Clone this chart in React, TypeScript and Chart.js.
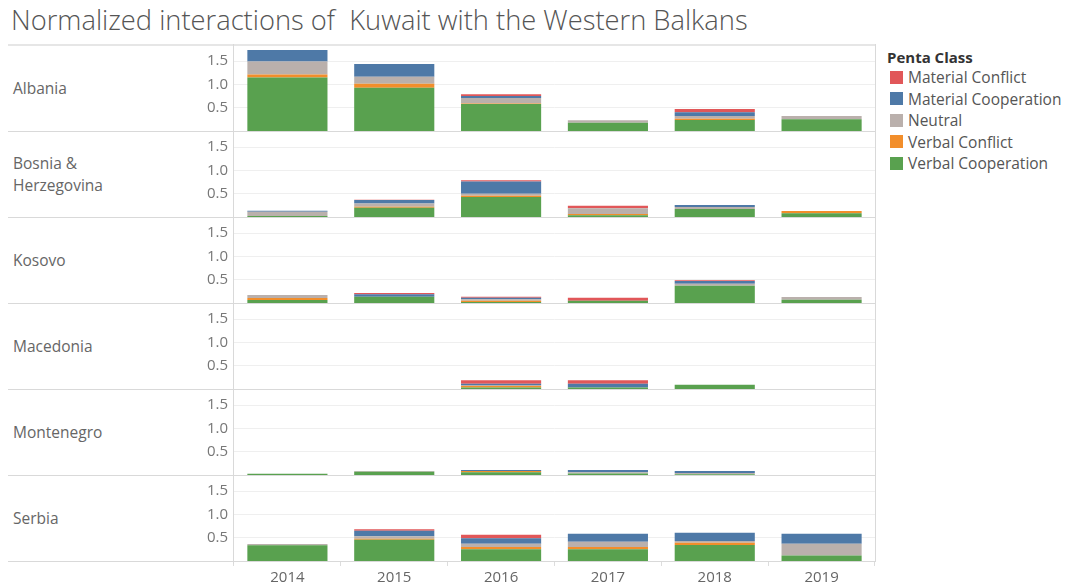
import React, { useEffect, useRef } from "react";
import { Chart, registerables } from "chart.js";

Chart.register(...registerables);

const years = ["2014", "2015", "2016", "2017", "2018", "2019"];
const countries = ["Albania", "Bosnia &\nHerzegovina", "Kosovo", "Macedonia", "Montenegro", "Serbia"];
const legendClasses = ["Material Conflict", "Material Cooperation", "Neutral", "Verbal Conflict", "Verbal Cooperation"];
const legendColors = ["#e15759", "#4e79a7", "#bab0ac", "#f28e2b", "#59a14f"];
const yTickValues = [0.5, 1.0, 1.5];
const yMax = 1.845;

// rows: Albania, Bosnia, Kosovo, Macedonia, Montenegro, Serbia; columns: 2014..2019
const verbalCooperation = [
  [1.15, 0.93, 0.58, 0.178, 0.236, 0.25],
  [0.02, 0.2, 0.43, 0.036, 0.17, 0.08],
  [0.064, 0.136, 0.02, 0.05, 0.37, 0.07],
  [0, 0, 0.03, 0.03, 0.093, 0],
  [0.025, 0.07, 0.057, 0.03, 0.015, 0],
  [0.336, 0.458, 0.25, 0.25, 0.343, 0.12],
];
const verbalConflict = [
  [0.06, 0.085, 0.01, 0, 0.028, 0],
  [0, 0.02, 0.028, 0.028, 0, 0.05],
  [0.043, 0, 0.03, 0, 0, 0],
  [0, 0, 0.034, 0, 0, 0],
  [0, 0, 0.029, 0, 0, 0],
  [0, 0.022, 0.05, 0.05, 0.05, 0],
];
const neutral = [
  [0.28, 0.15, 0.12, 0.05, 0.056, 0.07],
  [0.094, 0.07, 0.042, 0.126, 0.045, 0],
  [0.063, 0, 0.03, 0, 0.045, 0.06],
  [0, 0, 0.022, 0, 0, 0],
  [0, 0.015, 0, 0.027, 0.028, 0],
  [0.029, 0.05, 0.07, 0.115, 0.037, 0.25],
];
const materialCooperation = [
  [0.25, 0.27, 0.04, 0, 0.08, 0],
  [0.022, 0.075, 0.26, 0, 0.045, 0],
  [0, 0.054, 0.035, 0, 0.055, 0],
  [0, 0, 0.028, 0.084, 0, 0],
  [0, 0, 0.021, 0.05, 0.043, 0],
  [0, 0.12, 0.116, 0.172, 0.178, 0.217],
];
const materialConflict = [
  [0, 0, 0.04, 0, 0.07, 0],
  [0, 0.005, 0.03, 0.053, 0, 0],
  [0, 0.025, 0.021, 0.065, 0.02, 0],
  [0, 0, 0.076, 0.076, 0, 0],
  [0, 0, 0, 0, 0, 0],
  [0, 0.03, 0.079, 0, 0, 0],
];

const ROW_TOP = 45;
const ROW_H = 86;
const CANVAS_LEFT = 180;
const PLOT_LEFT = 234;
const PLOT_RIGHT = 875;
const X_AXIS_H = 25;
const FONT = "'Open Sans', 'DejaVu Sans', sans-serif";

export default function App() {
  const refs = useRef<(HTMLCanvasElement | null)[]>([]);

  useEffect(() => {
    const charts: Chart[] = [];
    countries.forEach((_, i) => {
      const canvas = refs.current[i];
      if (!canvas) return;
      const isLast = i === countries.length - 1;
      const series = [
        { label: "Verbal Cooperation", data: verbalCooperation[i], color: "#59a14f" },
        { label: "Verbal Conflict", data: verbalConflict[i], color: "#f28e2b" },
        { label: "Neutral", data: neutral[i], color: "#bab0ac" },
        { label: "Material Cooperation", data: materialCooperation[i], color: "#4e79a7" },
        { label: "Material Conflict", data: materialConflict[i], color: "#e15759" },
      ];
      const chart = new Chart(canvas, {
        type: "bar",
        data: {
          labels: years,
          datasets: series.map((s) => ({
            label: s.label,
            data: s.data,
            backgroundColor: s.color,
            borderWidth: 0,
            barPercentage: 0.75,
            categoryPercentage: 1,
          })),
        },
        options: {
          animation: false,
          responsive: false,
          devicePixelRatio: 1,
          layout: { padding: 0, autoPadding: false },
          plugins: { legend: { display: false }, tooltip: { enabled: false } },
          scales: {
            x: {
              stacked: true,
              display: isLast,
              offset: true,
              grid: {
                display: true,
                drawOnChartArea: false,
                drawTicks: true,
                tickLength: 5,
                color: "#dddddd",
                offset: true,
              },
              border: { display: false },
              ticks: {
                color: "#666666",
                font: { family: FONT, size: 15 },
                padding: 3,
                maxRotation: 0,
              },
              afterFit: (scale: any) => {
                scale.height = isLast ? X_AXIS_H : 0;
                scale.paddingLeft = 0;
                scale.paddingRight = 0;
              },
            },
            y: {
              stacked: true,
              min: 0,
              max: yMax,
              grid: { color: "#efefef", drawTicks: false, lineWidth: 1 },
              border: { display: false },
              ticks: {
                color: "#777777",
                font: { family: FONT, size: 15 },
                padding: 6,
                callback: (v: any) => Number(v).toFixed(1),
              },
              afterBuildTicks: (scale: any) => {
                scale.ticks = yTickValues.map((v) => ({ value: v }));
              },
              afterFit: (scale: any) => {
                scale.width = PLOT_LEFT - CANVAS_LEFT;
                scale.paddingTop = 0;
                scale.paddingBottom = 0;
              },
            },
          },
        },
      });
      charts.push(chart);
    });
    return () => charts.forEach((c) => c.destroy());
  }, []);

  const lineColor = "#d9d9d9";
  const totalBottom = ROW_TOP + ROW_H * countries.length;

  return (
    <div
      style={{
        position: "absolute",
        left: 0,
        top: 0,
        width: 1073,
        height: 586,
        background: "#ffffff",
        fontFamily: FONT,
        overflow: "hidden",
      }}
    >
      <div
        style={{
          position: "absolute",
          left: 11,
          top: 2,
          fontSize: 27.3,
          fontWeight: 300,
          color: "#555555",
          whiteSpace: "pre",
          lineHeight: "36px",
        }}
      >
        {"Normalized interactions of  Kuwait with the Western Balkans"}
      </div>

      {countries.map((name, i) => (
        <React.Fragment key={name}>
          <div
            style={{
              position: "absolute",
              left: 13,
              top: ROW_TOP + ROW_H * i,
              height: ROW_H,
              display: "flex",
              alignItems: "center",
              fontSize: 15.5,
              lineHeight: "22px",
              color: "#666666",
              whiteSpace: "pre-line",
            }}
          >
            {name}
          </div>
          <canvas
            ref={(el) => {
              refs.current[i] = el;
            }}
            width={PLOT_RIGHT - CANVAS_LEFT}
            height={ROW_H + (i === countries.length - 1 ? X_AXIS_H : 0)}
            style={{
              position: "absolute",
              left: CANVAS_LEFT,
              top: ROW_TOP + ROW_H * i,
              width: PLOT_RIGHT - CANVAS_LEFT,
              height: ROW_H + (i === countries.length - 1 ? X_AXIS_H : 0),
            }}
          />
        </React.Fragment>
      ))}

      {/* frame lines */}
      {Array.from({ length: countries.length + 1 }).map((_, k) => (
        <div
          key={"h" + k}
          style={{
            position: "absolute",
            left: 8,
            top: k === 0 ? ROW_TOP - 1 : ROW_TOP + ROW_H * k,
            width: PLOT_RIGHT + 1 - 8,
            height: k === 0 ? 2 : 1,
            background: k === 0 ? "#e6e6e6" : lineColor,
          }}
        />
      ))}
      <div
        style={{
          position: "absolute",
          left: PLOT_LEFT - 1,
          top: ROW_TOP - 1,
          width: 1,
          height: totalBottom - ROW_TOP + 4,
          background: lineColor,
        }}
      />
      <div
        style={{
          position: "absolute",
          left: PLOT_RIGHT,
          top: ROW_TOP - 1,
          width: 1,
          height: totalBottom - ROW_TOP + 2,
          background: lineColor,
        }}
      />

      {/* legend */}
      <div
        style={{
          position: "absolute",
          left: 887,
          top: 47,
          fontSize: 15,
          fontWeight: 700,
          color: "#333333",
          lineHeight: "20px",
        }}
      >
        Penta Class
      </div>
      {legendClasses.map((c, k) => (
        <div
          key={c}
          style={{
            position: "absolute",
            left: 890,
            top: 66 + k * 21.5,
            height: 22,
            display: "flex",
            alignItems: "center",
            fontSize: 15.5,
            color: "#555555",
            whiteSpace: "nowrap",
          }}
        >
          <span
            style={{
              display: "inline-block",
              width: 13,
              height: 13,
              background: legendColors[k],
              marginRight: 5,
            }}
          />
          {c}
        </div>
      ))}
    </div>
  );
}
